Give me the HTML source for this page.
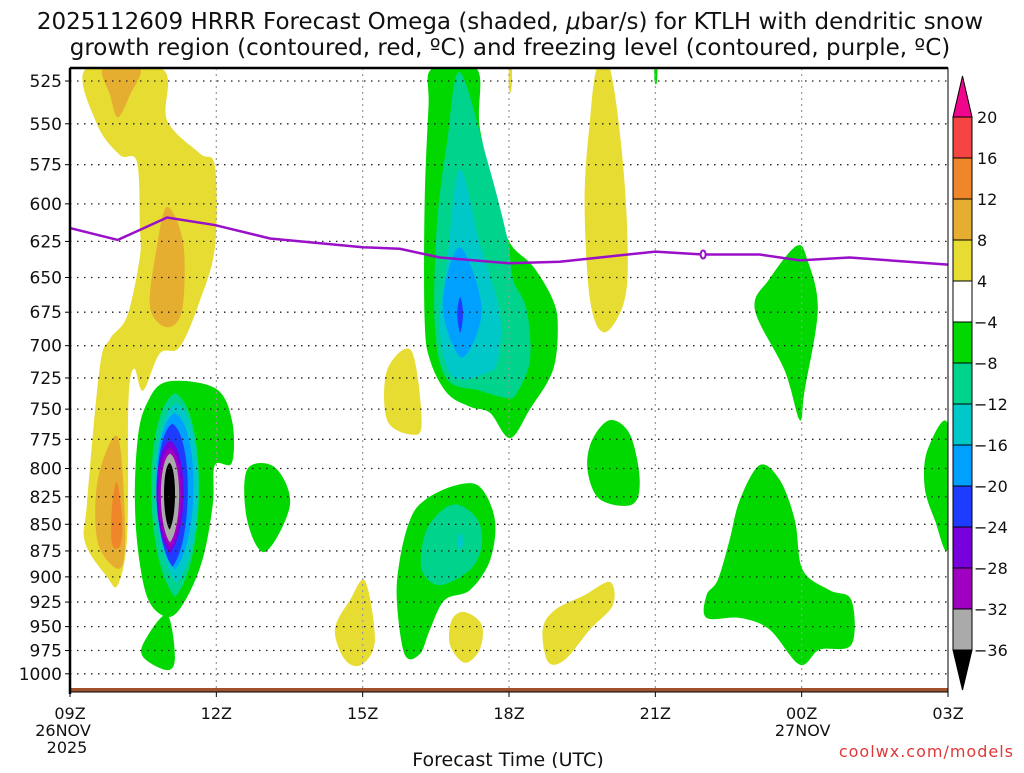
<!DOCTYPE html>
<html><head><meta charset="utf-8">
<style>
body{margin:0;background:#fff;}
svg text{font-family:"DejaVu Sans","Liberation Sans",sans-serif;}
</style></head>
<body>
<svg id="chart" width="1024" height="768" viewBox="0 0 1024 768" xmlns="http://www.w3.org/2000/svg">
<text x="510" y="29" font-size="23" text-anchor="middle" fill="#111">2025112609 HRRR Forecast Omega (shaded, <tspan font-style="italic">μ</tspan>bar/s) for KTLH with dendritic snow</text>
<text x="510" y="55" font-size="23" text-anchor="middle" fill="#111">growth region (contoured, red, ºC) and freezing level (contoured, purple, ºC)</text>
<g id="fills"></g>
<g id="grid"></g>
<g id="lines"></g>
<g id="axes"></g>
<g id="cbar"></g>
<text x="508" y="766" font-size="19" text-anchor="middle" fill="#111">Forecast Time (UTC)</text>
<text x="1014" y="757" font-size="16" text-anchor="end" fill="#e03838" letter-spacing="1">coolwx.com/models</text>
</svg>
<script>
// ---- data ----
const pressureLevels=[525,550,575,600,625,650,675,700,725,750,775,800,825,850,875,900,925,950,975,1000];
const timeTicks=[0,3,6,9,12,15,18];
const timeLabels=["09Z","12Z","15Z","18Z","21Z","00Z","03Z"];
const cbarLevels=[20,16,12,8,4,-4,-8,-12,-16,-20,-24,-28,-32,-36];
const cbarColors=["#f44444","#f0862a","#e6ae30","#e6dc32","#ffffff","#00d800","#00d48c","#00c8c8","#00a0ff","#1e3cff","#7800dc","#a000c0","#aaaaaa"];
const freezeHours=[0,0.98,1.99,2.97,4.1,6,6.76,7.58,9,10.04,10.86,12,12.98,14.14,14.96,15.98,18];
const freezeP=[616,624,609,614,623,629,630,636,640,639,636,632,634,634,638,636,641];
const regions=[
 ["#e6dc32",[[0.33,518],[0.55,550],[1.02,569],[1.37,573],[1.43,614],[1.43,636],[1.17,678],[0.82,695],[0.61,717],[0.35,830],[0.31,867],[0.76,900],[0.98,908],[1.17,862],[1.19,759],[1.23,727],[1.33,718],[1.5,735],[1.84,706],[2.25,701],[2.66,667],[2.97,629],[2.97,576],[2.66,568],[1.99,548],[1.89,518]]],
 ["#e6ae30",[[0.68,518],[0.82,533],[0.98,546],[1.23,533],[1.43,518]]],
 ["#e6ae30",[[1.99,602],[2.32,626],[2.3,673],[1.99,686],[1.64,671],[1.78,629]]],
 ["#e6ae30",[[0.98,773],[1.13,855],[1.02,892],[0.57,867],[0.57,810]]],
 ["#f0862a",[[0.96,812],[1.07,845],[1.03,870],[0.86,868],[0.86,835]]],
 ["#00d800",[[1.99,728],[2.97,733],[3.32,759],[3.32,795],[2.97,797],[2.93,831],[2.73,881],[2.4,920],[2.05,940],[1.64,926],[1.43,887],[1.33,831],[1.39,774],[1.58,745]]],
 ["#00d800",[[1.99,938],[2.15,982],[1.99,996],[1.5,982],[1.54,964]]],
 ["#00d800",[[3.63,801],[4.2,799],[4.51,832],[4.0,876],[3.63,846]]],
 ["#00d800",[[7.42,518],[8.34,518],[8.4,552],[8.75,597],[9.02,626],[9.49,642],[9.9,666],[10,686],[9.9,719],[9.43,750],[9.02,774],[8.61,753],[8.2,748],[7.73,737],[7.38,711],[7.27,680],[7.27,600],[7.35,540]]],
 ["#00d48c",[[7.99,520],[8.55,572],[8.96,622],[9.08,651],[9.36,673],[9.43,711],[9.16,737],[8.96,741],[8.4,735],[7.73,726],[7.48,686],[7.52,615],[7.73,561]]],
 ["#00c8c8",[[7.99,578],[8.4,626],[8.81,675],[8.77,711],[8.55,721],[7.85,724],[7.58,686],[7.73,638]]],
 ["#00a0ff",[[7.99,629],[8.44,673],[8.03,709],[7.64,670]]],
 ["#1e3cff",[[8.0,664],[8.06,676],[8.0,690],[7.94,676]]],
 ["#e6dc32",[[6.5,719],[7.0,704],[7.21,761],[7.0,771],[6.5,759]]],
 ["#e6dc32",[[10.8,518],[11.07,518],[11.31,566],[11.43,624],[11.37,666],[10.96,690],[10.66,666],[10.55,597],[10.66,548]]],
 ["#e6dc32",[[9.0,518],[9.06,518],[9.05,530],[9.0,530]]],
 ["#00d800",[[11.98,518],[12.04,518],[12.03,526],[11.99,526]]],
 ["#00d800",[[11.07,759],[11.48,771],[11.68,810],[11.52,832],[10.86,827],[10.61,801],[10.7,776]]],
 ["#00d800",[[14.9,628],[15.12,638],[15.33,673],[15.06,735],[14.96,759],[14.65,719],[14.04,673],[14.34,651]]],
 ["#00d800",[[14.14,797],[14.55,810],[14.86,846],[15.02,893],[15.57,913],[16.02,923],[16.02,969],[15.37,974],[14.96,990],[14.34,953],[13.73,941],[13.05,941],[13.05,918],[13.28,903],[13.52,865],[13.73,828]]],
 ["#00d800",[[18,763],[18,871],[17.73,846],[17.52,816],[17.58,784]]],
 ["#00d800",[[7.89,815],[8.4,816],[8.71,846],[8.61,884],[8.2,913],[7.68,923],[7.38,953],[7.17,979],[6.86,979],[6.7,923],[6.76,884],[6.97,846],[7.27,828]]],
 ["#00d48c",[[7.95,832],[8.36,846],[8.44,870],[8.2,893],[7.58,908],[7.21,893],[7.27,860],[7.58,839]]],
 ["#00c8c8",[[8.0,858],[8.07,866],[8.0,874],[7.93,866]]],
 ["#e6dc32",[[6.05,904],[6.25,964],[5.98,990],[5.64,985],[5.43,953],[5.74,923]]],
 ["#e6dc32",[[8.09,935],[8.44,948],[8.4,974],[8.09,988],[7.79,969],[7.83,943]]],
 ["#e6dc32",[[11.07,905],[11.13,928],[10.66,953],[10.14,985],[9.8,987],[9.69,953],[9.94,933],[10.55,918]]]
];
const lensColors=["#00d48c","#00c8c8","#00a0ff","#1e3cff","#7800dc","#a000c0","#aaaaaa","#000000"];
const lensLeft=[1.5,1.6,1.64,1.68,1.68,1.74,1.8,1.89];
const lensRight=[2.81,2.77,2.66,2.52,2.42,2.36,2.3,2.19];
const lensTop=[737,745,753,762,776,782,787,795];
const lensBottom=[920,906,893,890,877,872,867,855];

const X0=70,X1=948,Y0=68,Y1=692;
const xs=h=>X0+h*(X1-X0)/18;
const ys=p=>81+920*Math.log(p/525);
const NS="http://www.w3.org/2000/svg";
function mk(tag,attrs,parent){const e=document.createElementNS(NS,tag);for(const k in attrs)e.setAttribute(k,attrs[k]);parent.appendChild(e);return e;}
function smooth(pts){
 const n=pts.length;let d=`M${pts[0][0]},${pts[0][1]}`;
 for(let i=0;i<n;i++){const p0=pts[(i-1+n)%n],p1=pts[i],p2=pts[(i+1)%n],p3=pts[(i+2)%n];
  const c1=[p1[0]+(p2[0]-p0[0])/6,p1[1]+(p2[1]-p0[1])/6],c2=[p2[0]-(p3[0]-p1[0])/6,p2[1]-(p3[1]-p1[1])/6];
  d+=`C${c1[0].toFixed(1)},${c1[1].toFixed(1)} ${c2[0].toFixed(1)},${c2[1].toFixed(1)} ${p2[0].toFixed(1)},${p2[1].toFixed(1)}`;}
 return d+"Z";
}
const fills=document.getElementById('fills');
const cp=mk('clipPath',{id:'plotclip'},fills);
mk('rect',{x:X0,y:Y0,width:X1-X0,height:Y1-Y0},cp);
const fg=mk('g',{'clip-path':'url(#plotclip)'},fills);
regions.forEach((r,i)=>{
 const pts=r[1].map(q=>[xs(q[0]),ys(q[1])]);
 const el=mk('path',{d:smooth(pts),fill:r[0]},fg);
 
 
 if(i===5){
  lensColors.forEach((c,j)=>{
   const l=xs(lensLeft[j]),rr=xs(lensRight[j]),t=ys(lensTop[j]),b=ys(lensBottom[j]);
   const cx=(l+rr)/2,h=b-t;
   const d=`M${cx},${t}C${rr},${t+h*0.08} ${rr},${t+h*0.82} ${cx},${b}C${l},${t+h*0.82} ${l},${t+h*0.08} ${cx},${t}Z`;
   const e=mk('path',{d:d,fill:c},fg);
   
   
  });
 }
});
const gr=mk('rect',{x:X0,y:688,width:X1-X0,height:6,fill:'#a0522d'},fg);



const grid=document.getElementById('grid');
pressureLevels.forEach(p=>{
 const g=mk('line',{x1:X0,x2:X1,y1:ys(p),y2:ys(p),stroke:'#222','stroke-width':1.3,'stroke-dasharray':'1.5 5.5'},grid);
 
 
});
timeTicks.slice(1,-1).forEach(h=>{
 const g=mk('line',{x1:xs(h),x2:xs(h),y1:Y0,y2:Y1,stroke:'#999','stroke-width':1.2,'stroke-dasharray':'2 4'},grid);
 
 
});
const lines=document.getElementById('lines');
const fl=mk('polyline',{points:freezeHours.map((h,i)=>xs(h)+','+ys(freezeP[i])).join(' '),fill:'none',stroke:'#9a10c8','stroke-width':2.5},lines);


const lb=mk('ellipse',{cx:xs(12.98),cy:ys(634),rx:2.5,ry:4,fill:'#fff',stroke:'#9a10c8','stroke-width':2},lines);



const ax=document.getElementById('axes');
const fr=mk('rect',{x:X0,y:Y0,width:X1-X0,height:Y1-Y0,fill:'none',stroke:'#000','stroke-width':1},ax);


mk('line',{x1:X0,x2:X1,y1:Y0,y2:Y0,stroke:'#000','stroke-width':2.5},ax);
mk('line',{x1:X0,x2:X0,y1:Y0,y2:Y1+2,stroke:'#000','stroke-width':2.5},ax);
pressureLevels.forEach(p=>{
 mk('line',{x1:X0-5,x2:X0,y1:ys(p),y2:ys(p),stroke:'#000','stroke-width':1},ax);
 const t=mk('text',{x:X0-8,y:ys(p)+6,'font-size':17,'text-anchor':'end',fill:'#111'},ax);
 t.textContent=p;
 
 
});
timeTicks.forEach((h,i)=>{
 mk('line',{x1:xs(h),x2:xs(h),y1:Y1,y2:Y1+5,stroke:'#000','stroke-width':1},ax);
 const t=mk('text',{x:xs(h),y:719,'font-size':16,'text-anchor':'middle',fill:'#111'},ax);
 t.textContent=timeLabels[i];
 
 
});
[["26NOV",xs(0)-7,736],["2025",xs(0)-3,753],["27NOV",xs(15)+1,736]].forEach(a=>{
 const t=mk('text',{x:a[1],y:a[2],'font-size':16,'text-anchor':'middle',fill:'#111'},ax);
 t.textContent=a[0];
 
 
});

const cb=document.getElementById('cbar');
const CX0=953,CX1=972,CT=117,CStep=41;
const cbTop=mk('polygon',{points:`${CX0},${CT} ${CX1},${CT} ${(CX0+CX1)/2},76`,fill:'#f0068c',stroke:'#000','stroke-width':1},cb);


cbarColors.forEach((c,i)=>{
 const r=mk('rect',{x:CX0,y:CT+i*CStep,width:CX1-CX0,height:CStep,fill:c,stroke:'#000','stroke-width':1},cb);
 
 
});
const bt=CT+cbarColors.length*CStep;
const cbBot=mk('polygon',{points:`${CX0},${bt} ${CX1},${bt} ${(CX0+CX1)/2},690`,fill:'#000',stroke:'#000','stroke-width':1},cb);


cbarLevels.forEach((v,i)=>{
 const t=mk('text',{x:v<0?974:977,y:CT+i*CStep+6,'font-size':16,fill:'#111'},cb);
 t.textContent=v<0?'−'+(-v):v;
 
 
});
</script>
</body></html>
